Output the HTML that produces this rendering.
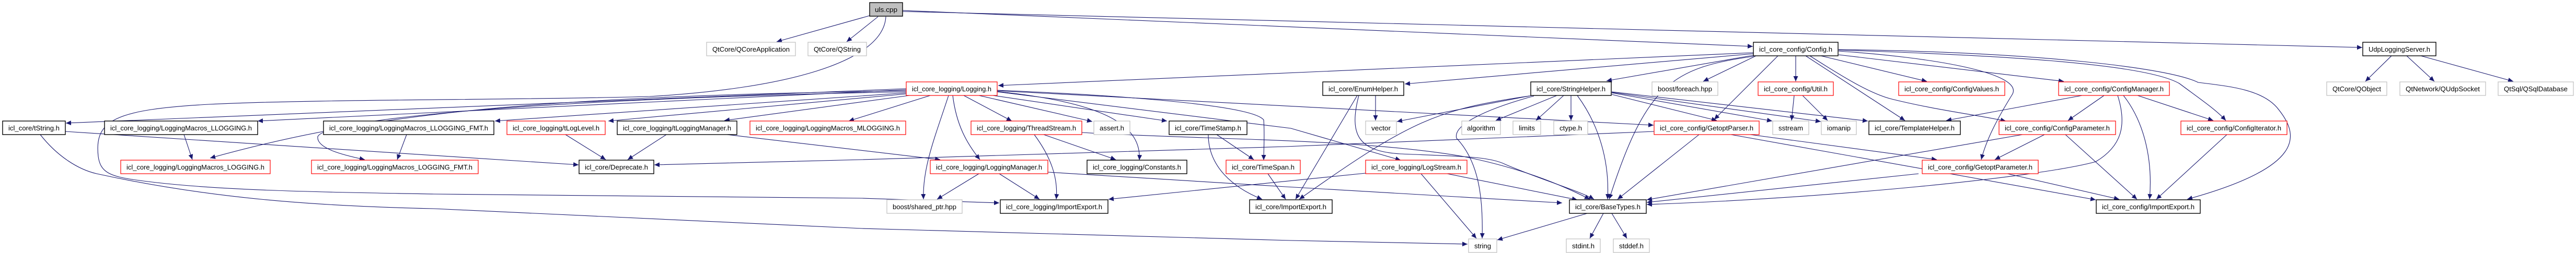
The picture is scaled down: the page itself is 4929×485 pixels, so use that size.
<!DOCTYPE html>
<html><head><meta charset="utf-8"><style>
html,body{margin:0;padding:0;background:#fff;}
svg{display:block;}
text{font-family:"Liberation Sans",sans-serif;font-size:13px;fill:#000;}
.e{fill:none;stroke:#191970;stroke-width:1.1;marker-end:url(#a);}
.r{fill:#fff;stroke:#ff0000;stroke-width:1.2;}
.b{fill:#fff;stroke:#000;stroke-width:1.4;}
.g{fill:#fff;stroke:#bfbfbf;stroke-width:1.2;}
</style></head><body>
<svg width="4929" height="485" viewBox="0 0 4929 485" xmlns="http://www.w3.org/2000/svg">
<defs><marker id="a" markerUnits="userSpaceOnUse" markerWidth="11" markerHeight="9" refX="10" refY="4.5" orient="auto"><path d="M0,0 L10,4.5 L0,9 z" fill="#191970"/></marker></defs>
<g>
<!-- uls.cpp edges -->
<path class="e" d="M1664,30 L1486,80"/>
<path class="e" d="M1680,32 L1620,80"/>
<path class="e" d="M1727,20 L3354,89"/>
<path class="e" d="M1727,22 L4520,91"/>
<path class="e" d="M1695,32 C1690,120 1500,170 1243,185 C1000,192 600,190 400,200 C220,210 180,230 188,300 C192,330 210,338 260,345 C400,365 600,368 830,372 L1650,380 L1912,389"/>
<!-- tString edges -->
<path class="e" d="M77,258 C110,300 150,325 185,333 C400,380 600,395 830,400 L1650,438 L2470,461 L2808,468"/>
<path class="e" d="M125,252 L1107,316"/>
<!-- Logging.h edges -->
<path class="e" d="M1734,170 L126,236"/>
<path class="e" d="M1734,172 L493,232"/>
<path class="e" d="M1734,174 C1000,185 700,220 402,303"/>
<path class="e" d="M1734,176 C1000,190 620,230 608,262 C605,285 660,298 698,306"/>
<path class="e" d="M1734,178 L947,232"/>
<path class="e" d="M1734,180 L1164,232"/>
<path class="e" d="M1740,183 L1386,231"/>
<path class="e" d="M1780,183 L1624,232"/>
<path class="e" d="M1844,183 L1936,232"/>
<path class="e" d="M1873,183 L2090,233"/>
<path class="e" d="M1900,183 L2233,232"/>
<path class="e" d="M1823,183 C1830,240 1850,275 1875,306"/>
<path class="e" d="M1815,183 C1790,260 1765,320 1767,382"/>
<path class="e" d="M1905,175 C2100,195 2185,235 2180,307"/>
<path class="e" d="M1908,173 C2200,185 2400,205 2418,230 C2420,260 2418,285 2418,307"/>
<path class="e" d="M1908,174 L3164,240"/>
<path class="e" d="M1908,176 L2470,246 L2680,307"/>
<!-- row3 logging macros -->
<path class="e" d="M352,258 L368,306"/>
<path class="e" d="M778,258 L760,306"/>
<path class="e" d="M1082,258 L1159,306"/>
<path class="e" d="M1275,258 L1201,306"/>
<path class="e" d="M1391,258 L1799,306"/>
<!-- ThreadStream -->
<path class="e" d="M1997,258 L2135,306"/>
<path class="e" d="M1979,258 C2010,300 2025,340 2021,382"/>
<path class="e" d="M2070,254 C2300,268 2600,265 2800,300 C2900,320 2980,350 3042,382"/>
<!-- LoggingManager -->
<path class="e" d="M1873,333 L1793,382"/>
<path class="e" d="M1912,333 L1989,382"/>
<path class="e" d="M2005,330 L2460,358 L2989,389"/>
<!-- GetoptParser -> Deprecate -->
<path class="e" d="M3165,252 L2460,281 L1650,306 L1252,316"/>
<!-- TimeStamp / TimeSpan -->
<path class="e" d="M2328,258 L2399,306"/>
<path class="e" d="M2312,258 C2312,320 2360,360 2415,382"/>
<path class="e" d="M2426,333 L2460,382"/>
<!-- LogStream -->
<path class="e" d="M2613,332 L2121,382"/>
<path class="e" d="M2719,333 L2825,457"/>
<path class="e" d="M2769,333 L3018,383"/>
<!-- EnumHelper -->
<path class="e" d="M2632,183 L2632,231"/>
<path class="e" d="M2597,183 L2479,382"/>
<path class="e" d="M2600,183 C2580,260 2600,290 2680,295 C2800,300 2850,300 2880,315 C2950,345 3020,365 3050,382"/>
<!-- StringHelper -->
<path class="e" d="M2931,183 L2673,233"/>
<path class="e" d="M2926,184 C2750,210 2700,230 2486,382"/>
<path class="e" d="M2979,183 L2862,231"/>
<path class="e" d="M2992,183 L2939,231"/>
<path class="e" d="M3006,183 L3006,231"/>
<path class="e" d="M3018,183 C3060,240 3080,310 3076,382"/>
<path class="e" d="M2935,184 C2840,210 2780,240 2787,265 C2830,310 2838,380 2836,457"/>
<path class="e" d="M3084,181 L3285,231"/>
<path class="e" d="M3084,178 L3391,232"/>
<path class="e" d="M3084,177 L3484,233"/>
<path class="e" d="M3084,176 L3574,232"/>
<!-- BaseTypes -->
<path class="e" d="M3037,409 L2865,460"/>
<path class="e" d="M3068,409 L3042,457"/>
<path class="e" d="M3084,409 L3113,457"/>
<!-- GetoptParser -->
<path class="e" d="M3251,258 L3095,382"/>
<path class="e" d="M3349,258 L3706,306"/>
<path class="e" d="M3312,258 L4010,383"/>
<!-- Config.h -->
<path class="e" d="M3355,101 L1910,164"/>
<path class="e" d="M3355,103 L2688,161"/>
<path class="e" d="M3355,106 L3074,155"/>
<path class="e" d="M3355,108 C3200,130 3150,160 3079,382"/>
<path class="e" d="M3360,107 L3259,156"/>
<path class="e" d="M3402,107 L3280,229"/>
<path class="e" d="M3436,107 L3436,156"/>
<path class="e" d="M3455,107 L3645,231"/>
<path class="e" d="M3463,107 C3530,150 3580,180 3620,190 C3700,210 3780,220 3838,232"/>
<path class="e" d="M3484,107 L3687,156"/>
<path class="e" d="M3518,105 L3949,156"/>
<path class="e" d="M3518,98 C3700,110 3870,140 3851,180 C3820,230 3800,270 3791,306"/>
<path class="e" d="M3518,96 C3800,105 4100,120 4170,160 C4210,190 4240,210 4259,231"/>
<path class="e" d="M3518,95 C3900,100 4150,130 4206,158 C4260,165 4330,170 4360,210 C4400,260 4410,320 4185,382"/>
<!-- ConfigManager -->
<path class="e" d="M3984,183 L3724,231"/>
<path class="e" d="M4026,183 L3957,231"/>
<path class="e" d="M4090,183 L4235,231"/>
<path class="e" d="M4063,183 C4100,230 4120,300 4113,382"/>
<path class="e" d="M4052,183 C4070,240 4060,280 4010,310 C3900,340 3500,380 3151,392"/>
<!-- Util -->
<path class="e" d="M3433,183 L3428,231"/>
<path class="e" d="M3449,183 L3497,231"/>
<!-- ConfigParameter -->
<path class="e" d="M3912,258 L3817,306"/>
<path class="e" d="M3952,258 L4089,382"/>
<path class="e" d="M3870,258 L3151,383"/>
<!-- GetoptParameter -->
<path class="e" d="M3841,333 L4055,382"/>
<path class="e" d="M3671,333 L3151,388"/>
<!-- ConfigIterator -->
<path class="e" d="M4261,258 L4126,382"/>
<!-- Udp -->
<path class="e" d="M4576,107 L4526,156"/>
<path class="e" d="M4605,107 L4658,156"/>
<path class="e" d="M4632,107 L4809,156"/>
</g>
<g>
<rect x="1664" y="5" width="63" height="26" fill="#bfbfbf" stroke="#000" stroke-width="1.4"/><text x="1695.5" y="23" text-anchor="middle" textLength="43" lengthAdjust="spacingAndGlyphs">uls.cpp</text>

<rect class="g" x="1352" y="81" width="170" height="26"/><text x="1437" y="99" text-anchor="middle" textLength="148" lengthAdjust="spacingAndGlyphs">QtCore/QCoreApplication</text>
<rect class="g" x="1546" y="81" width="112" height="26"/><text x="1602" y="99" text-anchor="middle" textLength="90" lengthAdjust="spacingAndGlyphs">QtCore/QString</text>
<rect class="b" x="3355" y="81" width="162" height="26"/><text x="3436" y="99" text-anchor="middle" textLength="140" lengthAdjust="spacingAndGlyphs">icl_core_config/Config.h</text>
<rect class="b" x="4521" y="81" width="140" height="26"/><text x="4591" y="99" text-anchor="middle" textLength="118" lengthAdjust="spacingAndGlyphs">UdpLoggingServer.h</text>

<rect class="r" x="1734" y="157" width="174" height="26"/><text x="1821" y="175" text-anchor="middle" textLength="152" lengthAdjust="spacingAndGlyphs">icl_core_logging/Logging.h</text>
<rect class="b" x="2531" y="157" width="155" height="26"/><text x="2608.5" y="175" text-anchor="middle" textLength="133" lengthAdjust="spacingAndGlyphs">icl_core/EnumHelper.h</text>
<rect class="b" x="2929" y="157" width="154" height="26"/><text x="3006" y="175" text-anchor="middle" textLength="132" lengthAdjust="spacingAndGlyphs">icl_core/StringHelper.h</text>
<rect class="g" x="3161" y="157" width="126" height="26"/><text x="3224" y="175" text-anchor="middle" textLength="104" lengthAdjust="spacingAndGlyphs">boost/foreach.hpp</text>
<rect class="r" x="3364" y="157" width="144" height="26"/><text x="3436" y="175" text-anchor="middle" textLength="122" lengthAdjust="spacingAndGlyphs">icl_core_config/Util.h</text>
<rect class="r" x="3633" y="157" width="203" height="26"/><text x="3734.5" y="175" text-anchor="middle" textLength="181" lengthAdjust="spacingAndGlyphs">icl_core_config/ConfigValues.h</text>
<rect class="r" x="3939" y="157" width="212" height="26"/><text x="4045" y="175" text-anchor="middle" textLength="190" lengthAdjust="spacingAndGlyphs">icl_core_config/ConfigManager.h</text>
<rect class="g" x="4452" y="157" width="115" height="26"/><text x="4509.5" y="175" text-anchor="middle" textLength="93" lengthAdjust="spacingAndGlyphs">QtCore/QObject</text>
<rect class="g" x="4592" y="157" width="164" height="26"/><text x="4674" y="175" text-anchor="middle" textLength="142" lengthAdjust="spacingAndGlyphs">QtNetwork/QUdpSocket</text>
<rect class="g" x="4780" y="157" width="144" height="26"/><text x="4852" y="175" text-anchor="middle" textLength="122" lengthAdjust="spacingAndGlyphs">QtSql/QSqlDatabase</text>

<rect class="b" x="5" y="232" width="120" height="26"/><text x="65" y="250" text-anchor="middle" textLength="98" lengthAdjust="spacingAndGlyphs">icl_core/tString.h</text>
<rect class="b" x="200" y="232" width="293" height="26"/><text x="346.5" y="250" text-anchor="middle" textLength="271" lengthAdjust="spacingAndGlyphs">icl_core_logging/LoggingMacros_LLOGGING.h</text>
<rect class="b" x="619" y="232" width="326" height="26"/><text x="782" y="250" text-anchor="middle" textLength="304" lengthAdjust="spacingAndGlyphs">icl_core_logging/LoggingMacros_LLOGGING_FMT.h</text>
<rect class="r" x="970" y="232" width="188" height="26"/><text x="1064" y="250" text-anchor="middle" textLength="166" lengthAdjust="spacingAndGlyphs">icl_core_logging/tLogLevel.h</text>
<rect class="b" x="1181" y="232" width="229" height="26"/><text x="1295.5" y="250" text-anchor="middle" textLength="207" lengthAdjust="spacingAndGlyphs">icl_core_logging/tLoggingManager.h</text>
<rect class="r" x="1435" y="232" width="298" height="26"/><text x="1584" y="250" text-anchor="middle" textLength="276" lengthAdjust="spacingAndGlyphs">icl_core_logging/LoggingMacros_MLOGGING.h</text>
<rect class="r" x="1858" y="232" width="212" height="26"/><text x="1964" y="250" text-anchor="middle" textLength="190" lengthAdjust="spacingAndGlyphs">icl_core_logging/ThreadStream.h</text>
<rect class="g" x="2093" y="232" width="69" height="26"/><text x="2127.5" y="250" text-anchor="middle" textLength="47" lengthAdjust="spacingAndGlyphs">assert.h</text>
<rect class="b" x="2237" y="232" width="149" height="26"/><text x="2311.5" y="250" text-anchor="middle" textLength="127" lengthAdjust="spacingAndGlyphs">icl_core/TimeStamp.h</text>
<rect class="g" x="2613" y="232" width="59" height="26"/><text x="2642.5" y="250" text-anchor="middle" textLength="37" lengthAdjust="spacingAndGlyphs">vector</text>
<rect class="g" x="2797" y="232" width="74" height="26"/><text x="2834" y="250" text-anchor="middle" textLength="54" lengthAdjust="spacingAndGlyphs">algorithm</text>
<rect class="g" x="2895" y="232" width="53" height="26"/><text x="2921.5" y="250" text-anchor="middle" textLength="31" lengthAdjust="spacingAndGlyphs">limits</text>
<rect class="g" x="2973" y="232" width="65" height="26"/><text x="3005.5" y="250" text-anchor="middle" textLength="43" lengthAdjust="spacingAndGlyphs">ctype.h</text>
<rect class="r" x="3165" y="232" width="201" height="26"/><text x="3265.5" y="250" text-anchor="middle" textLength="179" lengthAdjust="spacingAndGlyphs">icl_core_config/GetoptParser.h</text>
<rect class="g" x="3392" y="232" width="69" height="26"/><text x="3426.5" y="250" text-anchor="middle" textLength="47" lengthAdjust="spacingAndGlyphs">sstream</text>
<rect class="g" x="3485" y="232" width="67" height="26"/><text x="3518.5" y="250" text-anchor="middle" textLength="45" lengthAdjust="spacingAndGlyphs">iomanip</text>
<rect class="b" x="3576" y="232" width="175" height="26"/><text x="3663.5" y="250" text-anchor="middle" textLength="153" lengthAdjust="spacingAndGlyphs">icl_core/TemplateHelper.h</text>
<rect class="r" x="3825" y="232" width="223" height="26"/><text x="3936.5" y="250" text-anchor="middle" textLength="201" lengthAdjust="spacingAndGlyphs">icl_core_config/ConfigParameter.h</text>
<rect class="r" x="4173" y="232" width="203" height="26"/><text x="4274.5" y="250" text-anchor="middle" textLength="181" lengthAdjust="spacingAndGlyphs">icl_core_config/ConfigIterator.h</text>

<rect class="r" x="231" y="307" width="286" height="26"/><text x="374" y="325" text-anchor="middle" textLength="264" lengthAdjust="spacingAndGlyphs">icl_core_logging/LoggingMacros_LOGGING.h</text>
<rect class="r" x="596" y="307" width="319" height="26"/><text x="755.5" y="325" text-anchor="middle" textLength="297" lengthAdjust="spacingAndGlyphs">icl_core_logging/LoggingMacros_LOGGING_FMT.h</text>
<rect class="b" x="1108" y="307" width="143" height="26"/><text x="1179.5" y="325" text-anchor="middle" textLength="121" lengthAdjust="spacingAndGlyphs">icl_core/Deprecate.h</text>
<rect class="r" x="1780" y="307" width="225" height="26"/><text x="1892.5" y="325" text-anchor="middle" textLength="203" lengthAdjust="spacingAndGlyphs">icl_core_logging/LoggingManager.h</text>
<rect class="b" x="2080" y="307" width="191" height="26"/><text x="2175.5" y="325" text-anchor="middle" textLength="169" lengthAdjust="spacingAndGlyphs">icl_core_logging/Constants.h</text>
<rect class="r" x="2346" y="307" width="142" height="26"/><text x="2417" y="325" text-anchor="middle" textLength="120" lengthAdjust="spacingAndGlyphs">icl_core/TimeSpan.h</text>
<rect class="r" x="2613" y="307" width="194" height="26"/><text x="2710" y="325" text-anchor="middle" textLength="172" lengthAdjust="spacingAndGlyphs">icl_core_logging/LogStream.h</text>
<rect class="r" x="3678" y="307" width="222" height="26"/><text x="3789" y="325" text-anchor="middle" textLength="200" lengthAdjust="spacingAndGlyphs">icl_core_config/GetoptParameter.h</text>

<rect class="g" x="1697" y="383" width="144" height="26"/><text x="1769" y="401" text-anchor="middle" textLength="122" lengthAdjust="spacingAndGlyphs">boost/shared_ptr.hpp</text>
<rect class="b" x="1914" y="383" width="206" height="26"/><text x="2017" y="401" text-anchor="middle" textLength="184" lengthAdjust="spacingAndGlyphs">icl_core_logging/ImportExport.h</text>
<rect class="b" x="2391" y="383" width="158" height="26"/><text x="2470" y="401" text-anchor="middle" textLength="136" lengthAdjust="spacingAndGlyphs">icl_core/ImportExport.h</text>
<rect class="b" x="3003" y="383" width="147" height="26"/><text x="3076.5" y="401" text-anchor="middle" textLength="125" lengthAdjust="spacingAndGlyphs">icl_core/BaseTypes.h</text>
<rect class="b" x="4011" y="383" width="199" height="26"/><text x="4110.5" y="401" text-anchor="middle" textLength="177" lengthAdjust="spacingAndGlyphs">icl_core_config/ImportExport.h</text>

<rect class="g" x="2810" y="458" width="54" height="26"/><text x="2837" y="476" text-anchor="middle" textLength="32" lengthAdjust="spacingAndGlyphs">string</text>
<rect class="g" x="2997" y="458" width="65" height="26"/><text x="3029.5" y="476" text-anchor="middle" textLength="43" lengthAdjust="spacingAndGlyphs">stdint.h</text>
<rect class="g" x="3087" y="458" width="69" height="26"/><text x="3121.5" y="476" text-anchor="middle" textLength="47" lengthAdjust="spacingAndGlyphs">stddef.h</text>
</g>
</svg>
</body></html>
